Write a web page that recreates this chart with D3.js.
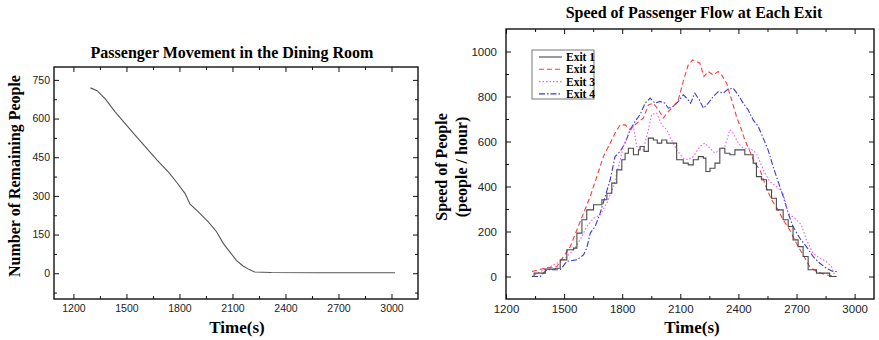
<!DOCTYPE html>
<html>
<head>
<meta charset="utf-8">
<script src="https://cdn.jsdelivr.net/npm/d3@7"></script>
<style>
  body { margin: 0; background: #fff; }
  svg { display: block; }
  .tick text { font-family: "Liberation Sans", Arial, sans-serif; fill: #222; }
  .title, .label, .legend text { font-family: "Liberation Serif", "Times New Roman", serif; font-weight: bold; fill: #000; }
</style>
</head>
<body>
<script>
// left chart: remaining people in the dining room
var remainTime  = [1296, 1334, 1380, 1437, 1493, 1550, 1616, 1672, 1738, 1785, 1832, 1860, 1907, 1963, 2010, 2048, 2085, 2123, 2160, 2198, 2226, 2320, 2600, 3020];
var remainCount = [719, 708, 676, 625, 580, 535, 483, 440, 392, 352, 309, 268, 238, 199, 161, 116, 83, 49, 28, 13, 5, 3, 2, 2];

// right chart: flow speed at each exit (people / hour)
var exit1Time = [1334, 1345, 1403, 1454, 1480, 1514, 1549, 1566, 1592, 1617, 1652, 1695, 1721, 1746, 1772, 1798, 1815, 1832, 1858, 1884, 1892, 1913, 1935, 1961, 1981, 2004, 2030, 2064, 2081, 2115, 2141, 2167, 2193, 2219, 2232, 2253, 2279, 2304, 2330, 2356, 2382, 2407, 2433, 2459, 2476, 2493, 2519, 2545, 2571, 2596, 2631, 2657, 2682, 2708, 2734, 2760, 2803, 2871, 2906];
var exit1Speed = [0, 15, 33, 37, 74, 119, 126, 193, 252, 296, 319, 341, 370, 415, 474, 519, 548, 570, 541, 563, 578, 556, 615, 607, 593, 607, 593, 593, 519, 504, 496, 519, 533, 526, 467, 481, 504, 570, 548, 541, 563, 563, 541, 541, 504, 444, 430, 385, 348, 296, 252, 222, 163, 133, 89, 30, 15, 0, 0];

var exit2Time = [1334, 1403, 1463, 1497, 1532, 1566, 1600, 1635, 1669, 1703, 1738, 1763, 1789, 1815, 1841, 1875, 1909, 1935, 1961, 1987, 2012, 2038, 2064, 2090, 2115, 2141, 2164, 2184, 2201, 2222, 2244, 2270, 2296, 2313, 2339, 2365, 2390, 2416, 2433, 2459, 2485, 2511, 2545, 2571, 2605, 2631, 2665, 2699, 2734, 2768, 2803, 2854, 2906];
var exit2Speed = [22, 37, 44, 89, 133, 207, 281, 356, 444, 533, 593, 637, 674, 674, 652, 681, 704, 763, 770, 741, 704, 733, 756, 785, 867, 941, 963, 956, 948, 889, 911, 896, 911, 896, 859, 785, 711, 652, 607, 556, 504, 474, 393, 341, 296, 252, 207, 148, 96, 44, 22, 7, 0];

var exit3Time = [1334, 1377, 1446, 1497, 1549, 1583, 1617, 1652, 1686, 1721, 1755, 1781, 1806, 1832, 1858, 1875, 1909, 1935, 1952, 1978, 2004, 2030, 2055, 2081, 2115, 2141, 2167, 2201, 2227, 2253, 2279, 2304, 2330, 2356, 2373, 2399, 2425, 2459, 2493, 2528, 2562, 2596, 2631, 2657, 2691, 2725, 2751, 2785, 2820, 2854, 2880, 2897];
var exit3Speed = [0, 22, 52, 74, 119, 163, 222, 259, 274, 326, 400, 489, 578, 637, 667, 578, 563, 652, 719, 726, 674, 652, 607, 563, 526, 519, 533, 578, 593, 570, 548, 563, 578, 652, 637, 593, 570, 570, 548, 474, 422, 400, 370, 281, 259, 230, 163, 104, 81, 67, 44, 7];

var exit4Time = [1334, 1377, 1411, 1480, 1514, 1566, 1600, 1617, 1635, 1660, 1686, 1712, 1738, 1763, 1789, 1815, 1841, 1866, 1892, 1918, 1944, 1969, 1995, 2021, 2038, 2064, 2090, 2115, 2133, 2153, 2175, 2198, 2219, 2244, 2270, 2296, 2322, 2347, 2373, 2399, 2425, 2450, 2476, 2502, 2528, 2553, 2579, 2605, 2631, 2657, 2682, 2717, 2751, 2785, 2820, 2854, 2888, 2909];
var exit4Speed = [0, 0, 30, 30, 67, 74, 96, 126, 193, 222, 281, 356, 430, 533, 556, 593, 652, 689, 719, 770, 793, 770, 778, 770, 748, 756, 778, 807, 793, 770, 815, 785, 748, 770, 800, 822, 815, 833, 837, 807, 770, 741, 696, 667, 615, 563, 489, 422, 356, 281, 222, 170, 133, 89, 59, 37, 22, 22];

var exitNames  = ["Exit 1", "Exit 2", "Exit 3", "Exit 4"];
var exitColors = ["#4a4a4a", "#ff3b3b", "#ea5cea", "#3a3ad0"];
var exitDashes = [null, "5,3", "1.5,2", "6,2,1.5,2"];

var timeTicks = [1200, 1500, 1800, 2100, 2400, 2700, 3000];

var svg = d3.select("body").append("svg")
  .attr("width", 879)
  .attr("height", 340);

// draws the framed box with inward ticks on all four sides
function frame(g, x, y, xMajor, xMinor, yMajor, yMinor, yPad, fontSize) {
  var w = x.range()[1], h = y.range()[0];

  g.append("g").attr("transform", "translate(0," + h + ")")
    .call(d3.axisBottom(x).tickValues(xMinor).tickSize(-3).tickFormat(""));
  g.append("g").attr("transform", "translate(0," + h + ")")
    .call(d3.axisBottom(x).tickValues(xMajor).tickSize(-5).tickPadding(6).tickFormat(d3.format("d")));
  g.append("g")
    .call(d3.axisTop(x).tickValues(xMinor).tickSize(-3).tickFormat(""));
  g.append("g")
    .call(d3.axisTop(x).tickValues(xMajor).tickSize(-5).tickFormat(""));

  g.append("g")
    .call(d3.axisLeft(y).tickValues(yMinor).tickSize(-3).tickFormat(""));
  g.append("g")
    .call(d3.axisLeft(y).tickValues(yMajor).tickSize(-5).tickPadding(yPad).tickFormat(d3.format("d")));
  g.append("g").attr("transform", "translate(" + w + ",0)")
    .call(d3.axisRight(y).tickValues(yMinor).tickSize(-3).tickFormat(""));
  g.append("g").attr("transform", "translate(" + w + ",0)")
    .call(d3.axisRight(y).tickValues(yMajor).tickSize(-5).tickFormat(""));

  g.selectAll(".domain").remove();
  g.selectAll(".tick line").attr("stroke", "#111").attr("stroke-width", 1);
  g.selectAll(".tick text").style("font-size", fontSize + "px");

  g.append("rect")
    .attr("width", w)
    .attr("height", h)
    .attr("fill", "none")
    .attr("stroke", "#111")
    .attr("stroke-width", 1.4);
}

// ---------- left panel ----------
var left = {x: 54, y: 67, w: 364, h: 232};
var gl = svg.append("g").attr("transform", "translate(" + left.x + "," + left.y + ")");

var xl = d3.scaleLinear().domain([1090, 3150]).range([0, left.w]);
var yl = d3.scaleLinear().domain([-100, 800]).range([left.h, 0]);

frame(gl, xl, yl, timeTicks, [1350, 1650, 1950, 2250, 2550, 2850],
  [0, 150, 300, 450, 600, 750], [-75, 75, 225, 375, 525, 675], 4, 10.5);

gl.append("path")
  .datum(d3.range(remainTime.length))
  .attr("fill", "none")
  .attr("stroke", "#555")
  .attr("stroke-width", 1.1)
  .attr("d", d3.line()
    .x(function(i) { return xl(remainTime[i]); })
    .y(function(i) { return yl(remainCount[i]); }));

svg.append("text").attr("class", "title")
  .attr("x", 232).attr("y", 58)
  .attr("text-anchor", "middle")
  .style("font-size", "16px")
  .text("Passenger Movement in the Dining Room");

svg.append("text").attr("class", "label")
  .attr("text-anchor", "middle")
  .attr("transform", "translate(20,176)rotate(-90)")
  .style("font-size", "16px")
  .text("Number of Remaining People");

svg.append("text").attr("class", "label")
  .attr("x", 237).attr("y", 333)
  .attr("text-anchor", "middle")
  .style("font-size", "17px")
  .text("Time(s)");

// ---------- right panel ----------
var right = {x: 506, y: 29, w: 368, h: 270};
var gr = svg.append("g").attr("transform", "translate(" + right.x + "," + right.y + ")");

var xr = d3.scaleLinear().domain([1200, 3100]).range([0, right.w]);
var yr = d3.scaleLinear().domain([-100, 1100]).range([right.h, 0]);

frame(gr, xr, yr, timeTicks, [1350, 1650, 1950, 2250, 2550, 2850],
  [0, 200, 400, 600, 800, 1000], [100, 300, 500, 700, 900], 9, 11.5);

var exits = [
  {t: exit1Time, v: exit1Speed, curve: d3.curveStepAfter},
  {t: exit2Time, v: exit2Speed, curve: d3.curveLinear},
  {t: exit3Time, v: exit3Speed, curve: d3.curveLinear},
  {t: exit4Time, v: exit4Speed, curve: d3.curveLinear}
];

// draw exit 4 first so the black line stays on top like the original
[3, 2, 1, 0].forEach(function(k) {
  var s = exits[k];
  gr.append("path")
    .datum(d3.range(s.t.length))
    .attr("fill", "none")
    .attr("stroke", exitColors[k])
    .attr("stroke-width", 1.1)
    .attr("stroke-dasharray", exitDashes[k])
    .attr("d", d3.line()
      .curve(s.curve)
      .x(function(i) { return xr(s.t[i]); })
      .y(function(i) { return yr(s.v[i]); }));
});

// legend
var legend = svg.append("g").attr("class", "legend")
  .attr("transform", "translate(532,50)");

legend.append("rect")
  .attr("width", 62)
  .attr("height", 49)
  .attr("fill", "#fff")
  .attr("stroke", "#777")
  .attr("stroke-width", 1);

var item = legend.selectAll(".item")
  .data(exitNames)
  .enter().append("g")
  .attr("class", "item")
  .attr("transform", function(d, i) { return "translate(0," + (7 + i * 12.3) + ")"; });

item.append("line")
  .attr("x1", 7).attr("x2", 30)
  .attr("stroke", function(d, i) { return exitColors[i]; })
  .attr("stroke-width", 1.1)
  .attr("stroke-dasharray", function(d, i) { return exitDashes[i]; });

item.append("text")
  .attr("x", 34)
  .attr("dy", "0.35em")
  .style("font-size", "11.5px")
  .text(function(d) { return d; });

svg.append("text").attr("class", "title")
  .attr("x", 694).attr("y", 18)
  .attr("text-anchor", "middle")
  .style("font-size", "16px")
  .text("Speed of Passenger Flow at Each Exit");

svg.append("text").attr("class", "label")
  .attr("text-anchor", "middle")
  .attr("transform", "translate(447,167)rotate(-90)")
  .style("font-size", "16px")
  .text("Speed of People");

svg.append("text").attr("class", "label")
  .attr("text-anchor", "middle")
  .attr("transform", "translate(467,167)rotate(-90)")
  .style("font-size", "16px")
  .text("(people / hour)");

svg.append("text").attr("class", "label")
  .attr("x", 692).attr("y", 333)
  .attr("text-anchor", "middle")
  .style("font-size", "17px")
  .text("Time(s)");
</script>
</body>
</html>
